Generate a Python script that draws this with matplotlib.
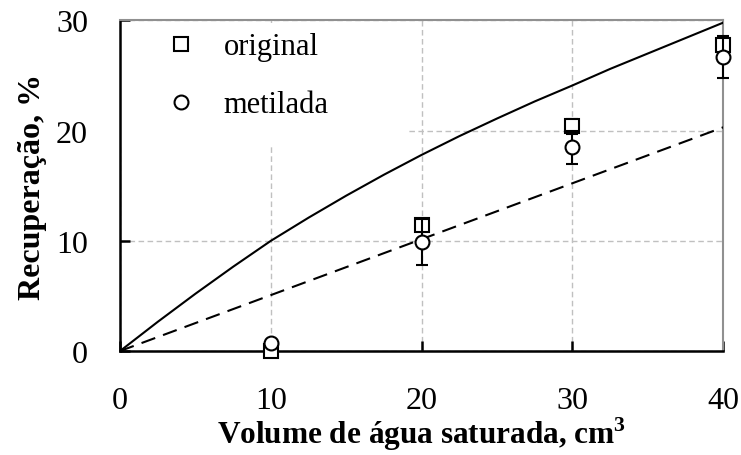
import numpy as np
import matplotlib.pyplot as plt
from matplotlib.lines import Line2D
from matplotlib.patches import Rectangle

plt.rcParams['font.family'] = ['Liberation Serif', 'DejaVu Serif']
plt.rcParams['mathtext.fontset'] = 'custom'
plt.rcParams['mathtext.rm'] = 'Liberation Serif'
plt.rcParams['mathtext.bf'] = 'Liberation Serif:bold'

# data
volume = [10, 20, 30, 40]
original = [0.0, 11.4, 20.4, 27.8]
original_err = [0.0, 0.0, 0.7, 0.0]
metilada = [0.7, 9.9, 18.5, 26.7]
metilada_err = [0.0, 2.1, 1.5, 1.9]

# model curves
curve_x = [0, 2.5, 5, 7.5, 10, 12.5, 15, 17.5, 20, 22.5, 25, 27.5, 30, 32.5, 35, 37.5, 40]
curve_solid = [0.0, 2.65, 5.2, 7.65, 10.0, 12.1, 14.1, 16.0, 17.8, 19.5, 21.1, 22.65,
               24.1, 25.6, 27.0, 28.4, 29.8]
line_x = [0, 40]
line_dashed = [0.0, 20.3]

fig = plt.figure(figsize=(7.41, 4.56), dpi=100)
ax = fig.add_axes([0.162, 0.228, 0.814, 0.725])

ax.set_xlim(0, 40)
ax.set_ylim(0, 30)
ax.set_xticks([0, 10, 20, 30, 40])
ax.set_yticks([0, 10, 20, 30])

ax.set_axisbelow(True)
ax.grid(True, color='#c0c0c0', linestyle=(0, (4, 2.5)), linewidth=1.0)
# blank area behind the legend
ax.add_patch(Rectangle((0, 18.8), 19.1, 11.0, facecolor='white', edgecolor='none', zorder=1))

ax.plot(curve_x, curve_solid, color='black', linewidth=1.5, zorder=3)
ax.plot(line_x, line_dashed, color='black', linewidth=1.5, linestyle=(0, (7, 4)), zorder=3)

ax.errorbar(volume, original, yerr=original_err, fmt='s', markersize=10,
            markerfacecolor='white', markeredgecolor='black', markeredgewidth=1.5,
            ecolor='black', elinewidth=1.5, capsize=4, capthick=1.5, clip_on=False, zorder=5)
ax.errorbar(volume, metilada, yerr=metilada_err, fmt='o', markersize=10,
            markerfacecolor='white', markeredgecolor='black', markeredgewidth=1.5,
            ecolor='black', elinewidth=1.5, capsize=4, capthick=1.5, clip_on=False, zorder=6)

handles = [
    Line2D([], [], marker='s', linestyle='none', markersize=10, markerfacecolor='white',
           markeredgecolor='black', markeredgewidth=1.5),
    Line2D([], [], marker='o', linestyle='none', markersize=10, markerfacecolor='white',
           markeredgecolor='black', markeredgewidth=1.5),
]
ax.legend(handles, ['original', 'metilada'], loc='upper left', bbox_to_anchor=(0.05, 1.01),
          frameon=False, fontsize=22, handlelength=1.0, handletextpad=0.9, labelspacing=0.95,
          borderaxespad=0.1)

for side in ['left', 'bottom']:
    ax.spines[side].set_color('black')
    ax.spines[side].set_linewidth(1.8)
for side in ['top', 'right']:
    ax.spines[side].set_color('#909090')
    ax.spines[side].set_linewidth(1.5)

ax.tick_params(axis='both', direction='in', length=7, width=1.8, labelsize=23, color='black')
ax.tick_params(axis='x', pad=25)
ax.tick_params(axis='y', pad=23)

ax.set_xlabel('Volume de água saturada, cm$^\\mathbf{3}$', fontsize=22.5, fontweight='bold', labelpad=0)
ax.set_ylabel('Recuperação, %', fontsize=23, fontweight='bold', labelpad=6.5)

fig.savefig('out.png', dpi=100)
